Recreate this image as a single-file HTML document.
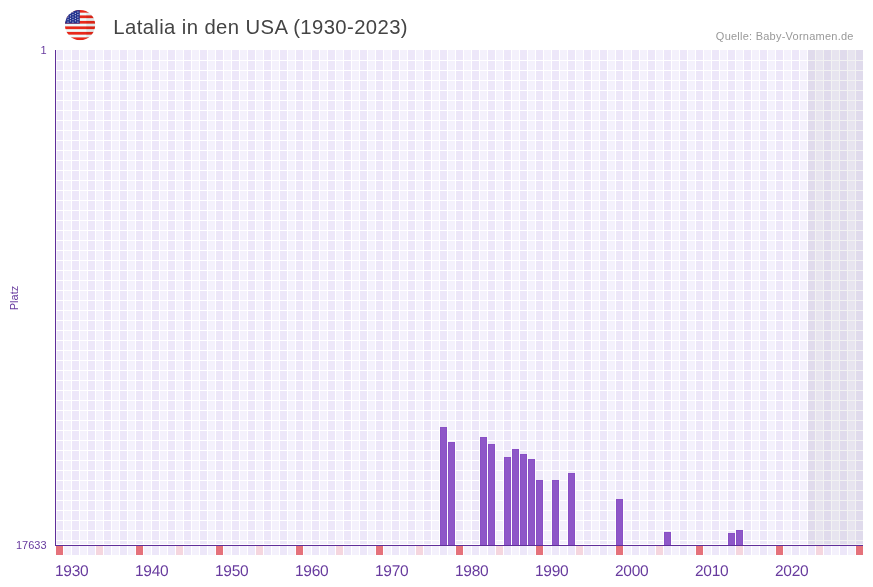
<!DOCTYPE html>
<html lang="de"><head><meta charset="utf-8"><title>Latalia in den USA (1930-2023)</title>
<style>html,body{margin:0;padding:0;background:#fff}body{width:873px;height:587px;overflow:hidden}svg{display:block}text{font-family:"Liberation Sans",sans-serif}</style></head><body>
<svg width="873" height="587" viewBox="0 0 873 587">
<rect width="873" height="587" fill="#fff"/>
<g shape-rendering="crispEdges">
<rect x="56" y="50" width="1" height="495" fill="#f6f3fc"/>
<rect x="57" y="50" width="6" height="495" fill="#ede7f9"/>
<rect x="64" y="50" width="7" height="495" fill="#f4f1fc"/>
<rect x="72" y="50" width="7" height="495" fill="#ede7f9"/>
<rect x="80" y="50" width="7" height="495" fill="#f4f1fc"/>
<rect x="88" y="50" width="7" height="495" fill="#ede7f9"/>
<rect x="96" y="50" width="7" height="495" fill="#f4f1fc"/>
<rect x="104" y="50" width="7" height="495" fill="#ede7f9"/>
<rect x="112" y="50" width="7" height="495" fill="#f4f1fc"/>
<rect x="120" y="50" width="7" height="495" fill="#ede7f9"/>
<rect x="128" y="50" width="7" height="495" fill="#f4f1fc"/>
<rect x="136" y="50" width="7" height="495" fill="#ede7f9"/>
<rect x="144" y="50" width="7" height="495" fill="#f4f1fc"/>
<rect x="152" y="50" width="7" height="495" fill="#ede7f9"/>
<rect x="160" y="50" width="7" height="495" fill="#f4f1fc"/>
<rect x="168" y="50" width="7" height="495" fill="#ede7f9"/>
<rect x="176" y="50" width="7" height="495" fill="#f4f1fc"/>
<rect x="184" y="50" width="7" height="495" fill="#ede7f9"/>
<rect x="192" y="50" width="7" height="495" fill="#f4f1fc"/>
<rect x="200" y="50" width="7" height="495" fill="#ede7f9"/>
<rect x="208" y="50" width="7" height="495" fill="#f4f1fc"/>
<rect x="216" y="50" width="7" height="495" fill="#ede7f9"/>
<rect x="224" y="50" width="7" height="495" fill="#f4f1fc"/>
<rect x="232" y="50" width="7" height="495" fill="#ede7f9"/>
<rect x="240" y="50" width="7" height="495" fill="#f4f1fc"/>
<rect x="248" y="50" width="7" height="495" fill="#ede7f9"/>
<rect x="256" y="50" width="7" height="495" fill="#f4f1fc"/>
<rect x="264" y="50" width="7" height="495" fill="#ede7f9"/>
<rect x="272" y="50" width="7" height="495" fill="#f4f1fc"/>
<rect x="280" y="50" width="7" height="495" fill="#ede7f9"/>
<rect x="288" y="50" width="7" height="495" fill="#f4f1fc"/>
<rect x="296" y="50" width="7" height="495" fill="#ede7f9"/>
<rect x="304" y="50" width="7" height="495" fill="#f4f1fc"/>
<rect x="312" y="50" width="7" height="495" fill="#ede7f9"/>
<rect x="320" y="50" width="7" height="495" fill="#f4f1fc"/>
<rect x="328" y="50" width="7" height="495" fill="#ede7f9"/>
<rect x="336" y="50" width="7" height="495" fill="#f4f1fc"/>
<rect x="344" y="50" width="7" height="495" fill="#ede7f9"/>
<rect x="352" y="50" width="7" height="495" fill="#f4f1fc"/>
<rect x="360" y="50" width="7" height="495" fill="#ede7f9"/>
<rect x="368" y="50" width="7" height="495" fill="#f4f1fc"/>
<rect x="376" y="50" width="7" height="495" fill="#ede7f9"/>
<rect x="384" y="50" width="7" height="495" fill="#f4f1fc"/>
<rect x="392" y="50" width="7" height="495" fill="#ede7f9"/>
<rect x="400" y="50" width="7" height="495" fill="#f4f1fc"/>
<rect x="408" y="50" width="7" height="495" fill="#ede7f9"/>
<rect x="416" y="50" width="7" height="495" fill="#f4f1fc"/>
<rect x="424" y="50" width="7" height="495" fill="#ede7f9"/>
<rect x="432" y="50" width="7" height="495" fill="#f4f1fc"/>
<rect x="440" y="50" width="7" height="495" fill="#ede7f9"/>
<rect x="448" y="50" width="7" height="495" fill="#f4f1fc"/>
<rect x="456" y="50" width="7" height="495" fill="#ede7f9"/>
<rect x="464" y="50" width="7" height="495" fill="#f4f1fc"/>
<rect x="472" y="50" width="7" height="495" fill="#ede7f9"/>
<rect x="480" y="50" width="7" height="495" fill="#f4f1fc"/>
<rect x="488" y="50" width="7" height="495" fill="#ede7f9"/>
<rect x="496" y="50" width="7" height="495" fill="#f4f1fc"/>
<rect x="504" y="50" width="7" height="495" fill="#ede7f9"/>
<rect x="512" y="50" width="7" height="495" fill="#f4f1fc"/>
<rect x="520" y="50" width="7" height="495" fill="#ede7f9"/>
<rect x="528" y="50" width="7" height="495" fill="#f4f1fc"/>
<rect x="536" y="50" width="7" height="495" fill="#ede7f9"/>
<rect x="544" y="50" width="7" height="495" fill="#f4f1fc"/>
<rect x="552" y="50" width="7" height="495" fill="#ede7f9"/>
<rect x="560" y="50" width="7" height="495" fill="#f4f1fc"/>
<rect x="568" y="50" width="7" height="495" fill="#ede7f9"/>
<rect x="576" y="50" width="7" height="495" fill="#f4f1fc"/>
<rect x="584" y="50" width="7" height="495" fill="#ede7f9"/>
<rect x="592" y="50" width="7" height="495" fill="#f4f1fc"/>
<rect x="600" y="50" width="7" height="495" fill="#ede7f9"/>
<rect x="608" y="50" width="7" height="495" fill="#f4f1fc"/>
<rect x="616" y="50" width="7" height="495" fill="#ede7f9"/>
<rect x="624" y="50" width="7" height="495" fill="#f4f1fc"/>
<rect x="632" y="50" width="7" height="495" fill="#ede7f9"/>
<rect x="640" y="50" width="7" height="495" fill="#f4f1fc"/>
<rect x="648" y="50" width="7" height="495" fill="#ede7f9"/>
<rect x="656" y="50" width="7" height="495" fill="#f4f1fc"/>
<rect x="664" y="50" width="7" height="495" fill="#ede7f9"/>
<rect x="672" y="50" width="7" height="495" fill="#f4f1fc"/>
<rect x="680" y="50" width="7" height="495" fill="#ede7f9"/>
<rect x="688" y="50" width="7" height="495" fill="#f4f1fc"/>
<rect x="696" y="50" width="7" height="495" fill="#ede7f9"/>
<rect x="704" y="50" width="7" height="495" fill="#f4f1fc"/>
<rect x="712" y="50" width="7" height="495" fill="#ede7f9"/>
<rect x="720" y="50" width="7" height="495" fill="#f4f1fc"/>
<rect x="728" y="50" width="7" height="495" fill="#ede7f9"/>
<rect x="736" y="50" width="7" height="495" fill="#f4f1fc"/>
<rect x="744" y="50" width="7" height="495" fill="#ede7f9"/>
<rect x="752" y="50" width="7" height="495" fill="#f4f1fc"/>
<rect x="760" y="50" width="7" height="495" fill="#ede7f9"/>
<rect x="768" y="50" width="7" height="495" fill="#f4f1fc"/>
<rect x="776" y="50" width="7" height="495" fill="#ede7f9"/>
<rect x="784" y="50" width="7" height="495" fill="#f4f1fc"/>
<rect x="792" y="50" width="7" height="495" fill="#ede7f9"/>
<rect x="800" y="50" width="7" height="495" fill="#f4f1fc"/>
<rect x="808" y="50" width="7" height="495" fill="#ede7f9"/>
<rect x="816" y="50" width="7" height="495" fill="#f4f1fc"/>
<rect x="824" y="50" width="7" height="495" fill="#ede7f9"/>
<rect x="832" y="50" width="7" height="495" fill="#f4f1fc"/>
<rect x="840" y="50" width="7" height="495" fill="#ede7f9"/>
<rect x="848" y="50" width="7" height="495" fill="#f4f1fc"/>
<rect x="856" y="50" width="7" height="495" fill="#ede7f9"/>
<rect x="56" y="546" width="7" height="9" fill="#e5727b"/>
<rect x="64" y="546" width="7" height="9" fill="#f4f1fc"/>
<rect x="72" y="546" width="7" height="9" fill="#ede7f9"/>
<rect x="80" y="546" width="7" height="9" fill="#f4f1fc"/>
<rect x="88" y="546" width="7" height="9" fill="#ede7f9"/>
<rect x="96" y="546" width="7" height="9" fill="#f5d6de"/>
<rect x="104" y="546" width="7" height="9" fill="#ede7f9"/>
<rect x="112" y="546" width="7" height="9" fill="#f4f1fc"/>
<rect x="120" y="546" width="7" height="9" fill="#ede7f9"/>
<rect x="128" y="546" width="7" height="9" fill="#f4f1fc"/>
<rect x="136" y="546" width="7" height="9" fill="#e5727b"/>
<rect x="144" y="546" width="7" height="9" fill="#f4f1fc"/>
<rect x="152" y="546" width="7" height="9" fill="#ede7f9"/>
<rect x="160" y="546" width="7" height="9" fill="#f4f1fc"/>
<rect x="168" y="546" width="7" height="9" fill="#ede7f9"/>
<rect x="176" y="546" width="7" height="9" fill="#f5d6de"/>
<rect x="184" y="546" width="7" height="9" fill="#ede7f9"/>
<rect x="192" y="546" width="7" height="9" fill="#f4f1fc"/>
<rect x="200" y="546" width="7" height="9" fill="#ede7f9"/>
<rect x="208" y="546" width="7" height="9" fill="#f4f1fc"/>
<rect x="216" y="546" width="7" height="9" fill="#e5727b"/>
<rect x="224" y="546" width="7" height="9" fill="#f4f1fc"/>
<rect x="232" y="546" width="7" height="9" fill="#ede7f9"/>
<rect x="240" y="546" width="7" height="9" fill="#f4f1fc"/>
<rect x="248" y="546" width="7" height="9" fill="#ede7f9"/>
<rect x="256" y="546" width="7" height="9" fill="#f5d6de"/>
<rect x="264" y="546" width="7" height="9" fill="#ede7f9"/>
<rect x="272" y="546" width="7" height="9" fill="#f4f1fc"/>
<rect x="280" y="546" width="7" height="9" fill="#ede7f9"/>
<rect x="288" y="546" width="7" height="9" fill="#f4f1fc"/>
<rect x="296" y="546" width="7" height="9" fill="#e5727b"/>
<rect x="304" y="546" width="7" height="9" fill="#f4f1fc"/>
<rect x="312" y="546" width="7" height="9" fill="#ede7f9"/>
<rect x="320" y="546" width="7" height="9" fill="#f4f1fc"/>
<rect x="328" y="546" width="7" height="9" fill="#ede7f9"/>
<rect x="336" y="546" width="7" height="9" fill="#f5d6de"/>
<rect x="344" y="546" width="7" height="9" fill="#ede7f9"/>
<rect x="352" y="546" width="7" height="9" fill="#f4f1fc"/>
<rect x="360" y="546" width="7" height="9" fill="#ede7f9"/>
<rect x="368" y="546" width="7" height="9" fill="#f4f1fc"/>
<rect x="376" y="546" width="7" height="9" fill="#e5727b"/>
<rect x="384" y="546" width="7" height="9" fill="#f4f1fc"/>
<rect x="392" y="546" width="7" height="9" fill="#ede7f9"/>
<rect x="400" y="546" width="7" height="9" fill="#f4f1fc"/>
<rect x="408" y="546" width="7" height="9" fill="#ede7f9"/>
<rect x="416" y="546" width="7" height="9" fill="#f5d6de"/>
<rect x="424" y="546" width="7" height="9" fill="#ede7f9"/>
<rect x="432" y="546" width="7" height="9" fill="#f4f1fc"/>
<rect x="440" y="546" width="7" height="9" fill="#ede7f9"/>
<rect x="448" y="546" width="7" height="9" fill="#f4f1fc"/>
<rect x="456" y="546" width="7" height="9" fill="#e5727b"/>
<rect x="464" y="546" width="7" height="9" fill="#f4f1fc"/>
<rect x="472" y="546" width="7" height="9" fill="#ede7f9"/>
<rect x="480" y="546" width="7" height="9" fill="#f4f1fc"/>
<rect x="488" y="546" width="7" height="9" fill="#ede7f9"/>
<rect x="496" y="546" width="7" height="9" fill="#f5d6de"/>
<rect x="504" y="546" width="7" height="9" fill="#ede7f9"/>
<rect x="512" y="546" width="7" height="9" fill="#f4f1fc"/>
<rect x="520" y="546" width="7" height="9" fill="#ede7f9"/>
<rect x="528" y="546" width="7" height="9" fill="#f4f1fc"/>
<rect x="536" y="546" width="7" height="9" fill="#e5727b"/>
<rect x="544" y="546" width="7" height="9" fill="#f4f1fc"/>
<rect x="552" y="546" width="7" height="9" fill="#ede7f9"/>
<rect x="560" y="546" width="7" height="9" fill="#f4f1fc"/>
<rect x="568" y="546" width="7" height="9" fill="#ede7f9"/>
<rect x="576" y="546" width="7" height="9" fill="#f5d6de"/>
<rect x="584" y="546" width="7" height="9" fill="#ede7f9"/>
<rect x="592" y="546" width="7" height="9" fill="#f4f1fc"/>
<rect x="600" y="546" width="7" height="9" fill="#ede7f9"/>
<rect x="608" y="546" width="7" height="9" fill="#f4f1fc"/>
<rect x="616" y="546" width="7" height="9" fill="#e5727b"/>
<rect x="624" y="546" width="7" height="9" fill="#f4f1fc"/>
<rect x="632" y="546" width="7" height="9" fill="#ede7f9"/>
<rect x="640" y="546" width="7" height="9" fill="#f4f1fc"/>
<rect x="648" y="546" width="7" height="9" fill="#ede7f9"/>
<rect x="656" y="546" width="7" height="9" fill="#f5d6de"/>
<rect x="664" y="546" width="7" height="9" fill="#ede7f9"/>
<rect x="672" y="546" width="7" height="9" fill="#f4f1fc"/>
<rect x="680" y="546" width="7" height="9" fill="#ede7f9"/>
<rect x="688" y="546" width="7" height="9" fill="#f4f1fc"/>
<rect x="696" y="546" width="7" height="9" fill="#e5727b"/>
<rect x="704" y="546" width="7" height="9" fill="#f4f1fc"/>
<rect x="712" y="546" width="7" height="9" fill="#ede7f9"/>
<rect x="720" y="546" width="7" height="9" fill="#f4f1fc"/>
<rect x="728" y="546" width="7" height="9" fill="#ede7f9"/>
<rect x="736" y="546" width="7" height="9" fill="#f5d6de"/>
<rect x="744" y="546" width="7" height="9" fill="#ede7f9"/>
<rect x="752" y="546" width="7" height="9" fill="#f4f1fc"/>
<rect x="760" y="546" width="7" height="9" fill="#ede7f9"/>
<rect x="768" y="546" width="7" height="9" fill="#f4f1fc"/>
<rect x="776" y="546" width="7" height="9" fill="#e5727b"/>
<rect x="784" y="546" width="7" height="9" fill="#f4f1fc"/>
<rect x="792" y="546" width="7" height="9" fill="#ede7f9"/>
<rect x="800" y="546" width="7" height="9" fill="#f4f1fc"/>
<rect x="808" y="546" width="7" height="9" fill="#ede7f9"/>
<rect x="816" y="546" width="7" height="9" fill="#f5d6de"/>
<rect x="824" y="546" width="7" height="9" fill="#ede7f9"/>
<rect x="832" y="546" width="7" height="9" fill="#f4f1fc"/>
<rect x="840" y="546" width="7" height="9" fill="#ede7f9"/>
<rect x="848" y="546" width="7" height="9" fill="#f4f1fc"/>
<rect x="856" y="546" width="7" height="9" fill="#e5727b"/>
<rect x="56" y="60" width="807" height="1" fill="#fff"/>
<rect x="56" y="70" width="807" height="1" fill="#fff"/>
<rect x="56" y="80" width="807" height="1" fill="#fff"/>
<rect x="56" y="90" width="807" height="1" fill="#fff"/>
<rect x="56" y="100" width="807" height="1" fill="#fff"/>
<rect x="56" y="110" width="807" height="1" fill="#fff"/>
<rect x="56" y="120" width="807" height="1" fill="#fff"/>
<rect x="56" y="130" width="807" height="1" fill="#fff"/>
<rect x="56" y="140" width="807" height="1" fill="#fff"/>
<rect x="56" y="150" width="807" height="1" fill="#fff"/>
<rect x="56" y="160" width="807" height="1" fill="#fff"/>
<rect x="56" y="170" width="807" height="1" fill="#fff"/>
<rect x="56" y="180" width="807" height="1" fill="#fff"/>
<rect x="56" y="190" width="807" height="1" fill="#fff"/>
<rect x="56" y="200" width="807" height="1" fill="#fff"/>
<rect x="56" y="210" width="807" height="1" fill="#fff"/>
<rect x="56" y="220" width="807" height="1" fill="#fff"/>
<rect x="56" y="230" width="807" height="1" fill="#fff"/>
<rect x="56" y="240" width="807" height="1" fill="#fff"/>
<rect x="56" y="250" width="807" height="1" fill="#fff"/>
<rect x="56" y="260" width="807" height="1" fill="#fff"/>
<rect x="56" y="270" width="807" height="1" fill="#fff"/>
<rect x="56" y="280" width="807" height="1" fill="#fff"/>
<rect x="56" y="290" width="807" height="1" fill="#fff"/>
<rect x="56" y="300" width="807" height="1" fill="#fff"/>
<rect x="56" y="310" width="807" height="1" fill="#fff"/>
<rect x="56" y="320" width="807" height="1" fill="#fff"/>
<rect x="56" y="330" width="807" height="1" fill="#fff"/>
<rect x="56" y="340" width="807" height="1" fill="#fff"/>
<rect x="56" y="350" width="807" height="1" fill="#fff"/>
<rect x="56" y="360" width="807" height="1" fill="#fff"/>
<rect x="56" y="370" width="807" height="1" fill="#fff"/>
<rect x="56" y="380" width="807" height="1" fill="#fff"/>
<rect x="56" y="390" width="807" height="1" fill="#fff"/>
<rect x="56" y="400" width="807" height="1" fill="#fff"/>
<rect x="56" y="410" width="807" height="1" fill="#fff"/>
<rect x="56" y="420" width="807" height="1" fill="#fff"/>
<rect x="56" y="430" width="807" height="1" fill="#fff"/>
<rect x="56" y="440" width="807" height="1" fill="#fff"/>
<rect x="56" y="450" width="807" height="1" fill="#fff"/>
<rect x="56" y="460" width="807" height="1" fill="#fff"/>
<rect x="56" y="470" width="807" height="1" fill="#fff"/>
<rect x="56" y="480" width="807" height="1" fill="#fff"/>
<rect x="56" y="490" width="807" height="1" fill="#fff"/>
<rect x="56" y="500" width="807" height="1" fill="#fff"/>
<rect x="56" y="510" width="807" height="1" fill="#fff"/>
<rect x="56" y="520" width="807" height="1" fill="#fff"/>
<rect x="56" y="530" width="807" height="1" fill="#fff"/>
<rect x="56" y="540" width="807" height="1" fill="#fff"/>
<rect x="56" y="544" width="807" height="1" fill="#fff"/>
<rect x="808" y="50" width="55" height="495" fill="#000" fill-opacity="0.05"/>
<rect x="440" y="427" width="7" height="118" fill="#8950c5"/>
<rect x="441" y="428" width="5" height="117" fill="#8e57c8"/>
<rect x="448" y="442" width="7" height="103" fill="#8950c5"/>
<rect x="449" y="443" width="5" height="102" fill="#8e57c8"/>
<rect x="480" y="437" width="7" height="108" fill="#8950c5"/>
<rect x="481" y="438" width="5" height="107" fill="#8e57c8"/>
<rect x="488" y="444" width="7" height="101" fill="#8950c5"/>
<rect x="489" y="445" width="5" height="100" fill="#8e57c8"/>
<rect x="504" y="457" width="7" height="88" fill="#8950c5"/>
<rect x="505" y="458" width="5" height="87" fill="#8e57c8"/>
<rect x="512" y="449" width="7" height="96" fill="#8950c5"/>
<rect x="513" y="450" width="5" height="95" fill="#8e57c8"/>
<rect x="520" y="454" width="7" height="91" fill="#8950c5"/>
<rect x="521" y="455" width="5" height="90" fill="#8e57c8"/>
<rect x="528" y="459" width="7" height="86" fill="#8950c5"/>
<rect x="529" y="460" width="5" height="85" fill="#8e57c8"/>
<rect x="536" y="480" width="7" height="65" fill="#8950c5"/>
<rect x="537" y="481" width="5" height="64" fill="#8e57c8"/>
<rect x="552" y="480" width="7" height="65" fill="#8950c5"/>
<rect x="553" y="481" width="5" height="64" fill="#8e57c8"/>
<rect x="568" y="473" width="7" height="72" fill="#8950c5"/>
<rect x="569" y="474" width="5" height="71" fill="#8e57c8"/>
<rect x="616" y="499" width="7" height="46" fill="#8950c5"/>
<rect x="617" y="500" width="5" height="45" fill="#8e57c8"/>
<rect x="664" y="532" width="7" height="13" fill="#8950c5"/>
<rect x="665" y="533" width="5" height="12" fill="#8e57c8"/>
<rect x="728" y="533" width="7" height="12" fill="#8950c5"/>
<rect x="729" y="534" width="5" height="11" fill="#8e57c8"/>
<rect x="736" y="530" width="7" height="15" fill="#8950c5"/>
<rect x="737" y="531" width="5" height="14" fill="#8e57c8"/>
<rect x="55" y="50" width="1" height="496" fill="#5f2e99"/>
<rect x="55" y="545" width="808" height="1" fill="#5f2e99"/>
</g>
<defs><clipPath id="fc"><circle cx="80.05" cy="25.02" r="15.12"/></clipPath></defs>
<g clip-path="url(#fc)">
<rect x="64" y="9" width="32" height="32" fill="#eefafa"/>
<rect x="64" y="9.90" width="32" height="2.75" fill="#e8281a"/>
<rect x="64" y="15.40" width="32" height="2.75" fill="#e8281a"/>
<rect x="64" y="20.90" width="32" height="2.75" fill="#e8281a"/>
<rect x="64" y="26.40" width="32" height="2.75" fill="#e8281a"/>
<rect x="64" y="31.90" width="32" height="2.75" fill="#e8281a"/>
<rect x="64" y="37.40" width="32" height="2.75" fill="#e8281a"/>
<rect x="64" y="9" width="15.8" height="14.60" fill="#25338f"/>
<circle cx="68.02" cy="12.10" r="0.62" fill="#fff" fill-opacity="0.8"/>
<circle cx="72.96" cy="12.10" r="0.62" fill="#fff" fill-opacity="0.8"/>
<circle cx="77.90" cy="12.10" r="0.62" fill="#fff" fill-opacity="0.8"/>
<circle cx="65.55" cy="13.35" r="0.62" fill="#fff" fill-opacity="0.8"/>
<circle cx="70.49" cy="13.35" r="0.62" fill="#fff" fill-opacity="0.8"/>
<circle cx="75.43" cy="13.35" r="0.62" fill="#fff" fill-opacity="0.8"/>
<circle cx="68.02" cy="14.60" r="0.62" fill="#fff" fill-opacity="0.8"/>
<circle cx="72.96" cy="14.60" r="0.62" fill="#fff" fill-opacity="0.8"/>
<circle cx="77.90" cy="14.60" r="0.62" fill="#fff" fill-opacity="0.8"/>
<circle cx="65.55" cy="15.85" r="0.62" fill="#fff" fill-opacity="0.8"/>
<circle cx="70.49" cy="15.85" r="0.62" fill="#fff" fill-opacity="0.8"/>
<circle cx="75.43" cy="15.85" r="0.62" fill="#fff" fill-opacity="0.8"/>
<circle cx="68.02" cy="17.10" r="0.62" fill="#fff" fill-opacity="0.8"/>
<circle cx="72.96" cy="17.10" r="0.62" fill="#fff" fill-opacity="0.8"/>
<circle cx="77.90" cy="17.10" r="0.62" fill="#fff" fill-opacity="0.8"/>
<circle cx="65.55" cy="18.35" r="0.62" fill="#fff" fill-opacity="0.8"/>
<circle cx="70.49" cy="18.35" r="0.62" fill="#fff" fill-opacity="0.8"/>
<circle cx="75.43" cy="18.35" r="0.62" fill="#fff" fill-opacity="0.8"/>
<circle cx="68.02" cy="19.60" r="0.62" fill="#fff" fill-opacity="0.8"/>
<circle cx="72.96" cy="19.60" r="0.62" fill="#fff" fill-opacity="0.8"/>
<circle cx="77.90" cy="19.60" r="0.62" fill="#fff" fill-opacity="0.8"/>
<circle cx="65.55" cy="20.85" r="0.62" fill="#fff" fill-opacity="0.8"/>
<circle cx="70.49" cy="20.85" r="0.62" fill="#fff" fill-opacity="0.8"/>
<circle cx="75.43" cy="20.85" r="0.62" fill="#fff" fill-opacity="0.8"/>
<circle cx="68.02" cy="22.10" r="0.62" fill="#fff" fill-opacity="0.8"/>
<circle cx="72.96" cy="22.10" r="0.62" fill="#fff" fill-opacity="0.8"/>
<circle cx="77.90" cy="22.10" r="0.62" fill="#fff" fill-opacity="0.8"/>
<rect x="86.3" y="9" width="10" height="32" fill="#000" fill-opacity="0.06"/>
</g>
<text id="title" x="113.3" y="33.8" font-size="20.3" letter-spacing="0.39" fill="#444">Latalia in den USA (1930-2023)</text>
<text id="src" x="853.7" y="40.3" font-size="11" letter-spacing="0.24" fill="#999" text-anchor="end">Quelle: Baby-Vornamen.de</text>
<text id="y1" x="46.5" y="53.9" font-size="11" fill="#673a9e" text-anchor="end">1</text>
<text id="y2" x="46.5" y="548.9" font-size="11" fill="#673a9e" text-anchor="end">17633</text>
<text id="yl" transform="translate(18,298) rotate(-90)" font-size="11" fill="#673a9e" text-anchor="middle">Platz</text>
<text class="xl" x="55" y="576" font-size="15.5" letter-spacing="-0.3" text-rendering="geometricPrecision" fill="#673a9e">1930</text>
<text class="xl" x="135" y="576" font-size="15.5" letter-spacing="-0.3" text-rendering="geometricPrecision" fill="#673a9e">1940</text>
<text class="xl" x="215" y="576" font-size="15.5" letter-spacing="-0.3" text-rendering="geometricPrecision" fill="#673a9e">1950</text>
<text class="xl" x="295" y="576" font-size="15.5" letter-spacing="-0.3" text-rendering="geometricPrecision" fill="#673a9e">1960</text>
<text class="xl" x="375" y="576" font-size="15.5" letter-spacing="-0.3" text-rendering="geometricPrecision" fill="#673a9e">1970</text>
<text class="xl" x="455" y="576" font-size="15.5" letter-spacing="-0.3" text-rendering="geometricPrecision" fill="#673a9e">1980</text>
<text class="xl" x="535" y="576" font-size="15.5" letter-spacing="-0.3" text-rendering="geometricPrecision" fill="#673a9e">1990</text>
<text class="xl" x="615" y="576" font-size="15.5" letter-spacing="-0.3" text-rendering="geometricPrecision" fill="#673a9e">2000</text>
<text class="xl" x="695" y="576" font-size="15.5" letter-spacing="-0.3" text-rendering="geometricPrecision" fill="#673a9e">2010</text>
<text class="xl" x="775" y="576" font-size="15.5" letter-spacing="-0.3" text-rendering="geometricPrecision" fill="#673a9e">2020</text>
</svg></body></html>
